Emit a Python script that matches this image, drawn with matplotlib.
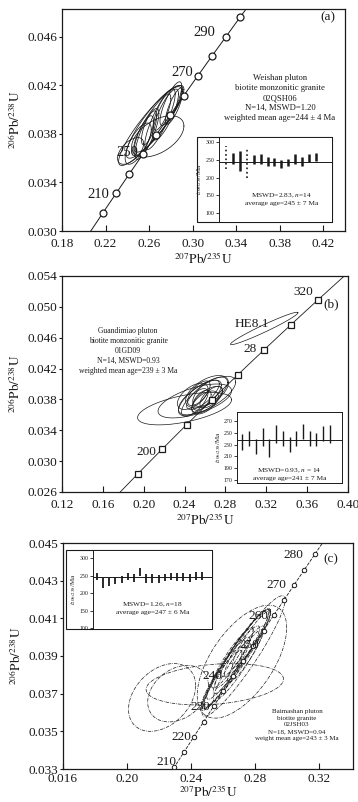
import numpy as np
import matplotlib
matplotlib.use('Agg')
import matplotlib.pyplot as plt
from matplotlib.patches import Rectangle

plt.rcParams['font.family'] = ['Liberation Serif', 'DejaVu Serif']
plt.rcParams['mathtext.fontset'] = 'stix'

# ---------------- data ----------------
L238 = 1.55125e-4   # decay constants per Ma
L235 = 9.8485e-4

# panel (a) Weishan
a_marker_ages = [200, 210, 220, 230, 240, 250, 260, 270, 280, 290, 300]
a_line_ages = (188, 306)
a_xticks = [0.18, 0.22, 0.26, 0.30, 0.34, 0.38, 0.42]
a_yticks = [0.030, 0.034, 0.038, 0.042, 0.046]
a_ell_cx = [0.262, 0.265, 0.268, 0.270, 0.258, 0.275, 0.280, 0.250, 0.243, 0.268, 0.255, 0.272, 0.260, 0.283]
a_ell_cy = [0.0387, 0.0390, 0.0392, 0.0392, 0.0380, 0.0396, 0.0405, 0.0372, 0.0366, 0.0378, 0.0378, 0.0398, 0.0385, 0.0403]
a_ell_sx = [0.030, 0.026, 0.022, 0.014, 0.011, 0.012, 0.010, 0.012, 0.012, 0.024, 0.009, 0.008, 0.007, 0.008]
a_ell_sy = [0.0033, 0.0030, 0.0027, 0.0025, 0.0021, 0.0021, 0.0018, 0.0017, 0.0011, 0.0017, 0.0017, 0.0015, 0.0014, 0.0015]
a_ell_rho = [0.90, 0.88, 0.86, 0.84, 0.80, 0.80, 0.80, 0.70, 0.55, 0.50, 0.75, 0.75, 0.70, 0.80]
a_inset_ages = [258, 255, 248, 240, 252, 254, 246, 244, 239, 242, 253, 245, 256, 258]
a_inset_err = [32, 15, 28, 40, 13, 14, 12, 12, 11, 10, 13, 13, 12, 12]
a_inset_rejected = [0, 3]
a_inset_mean = 245
a_inset_yticks = [100, 150, 200, 250, 300]

# panel (b) Guandimiao
b_marker_ages = [180, 200, 220, 240, 260, 280, 300, 320]
b_line_ages = (164, 345)
b_xticks = [0.12, 0.16, 0.20, 0.24, 0.28, 0.32, 0.36, 0.40]
b_yticks = [0.026, 0.030, 0.034, 0.038, 0.042, 0.046, 0.050, 0.054]
b_ell_cx = [0.240, 0.250, 0.262, 0.255, 0.258, 0.262, 0.250, 0.265, 0.254, 0.260, 0.248, 0.266, 0.257, 0.262, 0.318]
b_ell_cy = [0.0368, 0.0378, 0.0385, 0.0382, 0.0386, 0.0380, 0.0376, 0.0390, 0.0388, 0.0376, 0.0384, 0.0383, 0.0379, 0.0390, 0.0472]
b_ell_sx = [0.046, 0.036, 0.028, 0.021, 0.016, 0.015, 0.013, 0.017, 0.011, 0.013, 0.015, 0.011, 0.009, 0.021, 0.033]
b_ell_sy = [0.0021, 0.0022, 0.0025, 0.0023, 0.0019, 0.0017, 0.0018, 0.0019, 0.0016, 0.0015, 0.0017, 0.0014, 0.0013, 0.0021, 0.0021]
b_ell_rho = [0.55, 0.60, 0.70, 0.72, 0.75, 0.65, 0.70, 0.65, 0.65, 0.55, 0.55, 0.65, 0.55, 0.55, 0.97]
b_inset_ages = [235, 240, 226, 243, 224, 248, 240, 230, 240, 252, 240, 239, 249, 248]
b_inset_err = [14, 13, 13, 15, 16, 15, 13, 13, 13, 13, 13, 11, 13, 15]
b_inset_mean = 238
b_inset_yticks = [170, 190, 210, 230, 250, 270]

# panel (c) Baimashan
c_marker_ages = [210, 215, 220, 225, 230, 235, 240, 245, 250, 255, 260, 265, 270, 275, 280]
c_line_ages = (207, 292)
c_xticks = [0.16, 0.20, 0.24, 0.28, 0.32]
c_xticklabels = ['0.016', '0.20', '0.24', '0.28', '0.32']
c_yticks = [0.033, 0.035, 0.037, 0.039, 0.041, 0.043, 0.045]
c_ell_cx = [0.222, 0.232, 0.255, 0.272, 0.273, 0.268, 0.270, 0.265, 0.272, 0.262, 0.275, 0.266, 0.270, 0.260, 0.278, 0.264, 0.269, 0.274]
c_ell_cy = [0.0368, 0.0370, 0.0375, 0.0387, 0.0390, 0.0388, 0.0391, 0.0384, 0.0394, 0.0381, 0.0397, 0.0389, 0.0386, 0.0378, 0.0399, 0.0383, 0.0392, 0.0390]
c_ell_sx = [0.021, 0.019, 0.043, 0.028, 0.026, 0.022, 0.020, 0.018, 0.017, 0.015, 0.014, 0.013, 0.016, 0.012, 0.012, 0.010, 0.010, 0.011]
c_ell_sy = [0.0018, 0.0015, 0.0011, 0.0030, 0.0032, 0.0027, 0.0024, 0.0022, 0.0021, 0.0019, 0.0018, 0.0016, 0.0020, 0.0015, 0.0015, 0.0013, 0.0013, 0.0014]
c_ell_rho = [0.35, 0.30, 0.25, 0.60, 0.93, 0.95, 0.95, 0.94, 0.94, 0.93, 0.93, 0.92, 0.94, 0.92, 0.92, 0.90, 0.90, 0.92]
c_inset_ages = [248, 229, 232, 235, 240, 248, 243, 260, 241, 242, 240, 244, 248, 246, 246, 243, 250, 250]
c_inset_err = [9, 15, 12, 10, 10, 11, 11, 11, 13, 12, 12, 10, 11, 11, 11, 11, 11, 11]
c_inset_mean = 247
c_inset_yticks = [100, 150, 200, 250, 300]

# ---------------- helpers ----------------
W, H = 358, 802
INK = '#1a1a1a'


def rect(x0, y0, x1, y1):
    return [x0 / W, 1 - y1 / H, (x1 - x0) / W, (y1 - y0) / H]


def concordia(t):
    t = np.asarray(t, dtype=float)
    return np.exp(L235 * t) - 1, np.exp(L238 * t) - 1


def ellipse_xy(cx, cy, sx, sy, rho, n=160):
    th = np.linspace(0, 2 * np.pi, n)
    x = cx + sx * np.cos(th)
    y = cy + sy * (rho * np.cos(th) + np.sqrt(1 - rho ** 2) * np.sin(th))
    return x, y


def style_main(ax, xlim, ylim, xticks, yticks, xticklabels=None, yfmt='{:.3f}',
               xpad=5, xlabelpad=1):
    ax.set_xlim(*xlim)
    ax.set_ylim(*ylim)
    ax.set_xticks(xticks)
    ax.set_yticks(yticks)
    if xticklabels is None:
        xticklabels = ['{:.2f}'.format(v) for v in xticks]
    ax.set_xticklabels(xticklabels)
    ax.set_yticklabels([yfmt.format(v) for v in yticks])
    ax.tick_params(axis='x', direction='in', length=4, width=0.8, labelsize=9.5,
                   colors=INK, pad=xpad)
    ax.tick_params(axis='y', direction='out', length=2.5, width=0.8, labelsize=9.5,
                   colors=INK, pad=1)
    for s in ax.spines.values():
        s.set_linewidth(0.9)
        s.set_color(INK)
    ax.set_xlabel(r'$^{207}\mathrm{Pb}/^{235}\mathrm{U}$', fontsize=9.5, color=INK, labelpad=xlabelpad)
    ax.set_ylabel(r'$^{206}\mathrm{Pb}/^{238}\mathrm{U}$', fontsize=9.5, color=INK, labelpad=3)


def style_inset(ax, xlim, ylim, yticks):
    ax.set_xlim(*xlim)
    ax.set_ylim(*ylim)
    ax.set_xticks([])
    ax.set_yticks(yticks)
    ax.tick_params(axis='y', direction='out', length=2, width=0.6, labelsize=4.2,
                   colors=INK, pad=1)
    for s in ax.spines.values():
        s.set_linewidth(0.7)
        s.set_color(INK)
    ax.set_ylabel(r'$t_{206/238}$/Ma', fontsize=5, color=INK, labelpad=1)


fig = plt.figure(figsize=(W / 100, H / 100), dpi=100)

# ================= panel (a) =================
ax = fig.add_axes(rect(62, 9, 345, 231))
t = np.linspace(*a_line_ages, 300)
cx_, cy_ = concordia(t)
ax.plot(cx_, cy_, color=INK, lw=0.7, zorder=2)
for i in range(len(a_ell_cx)):
    ex, ey = ellipse_xy(a_ell_cx[i], a_ell_cy[i], a_ell_sx[i], a_ell_sy[i], a_ell_rho[i])
    ax.plot(ex, ey, color=INK, lw=0.55, zorder=3)
mx, my = concordia(a_marker_ages)
ax.plot(mx, my, 'o', ms=5, mfc='white', mec=INK, mew=0.9, zorder=4)
style_main(ax, (0.18, 0.44), (0.030, 0.0483), a_xticks, a_yticks)
for txt, (px, py) in [('290', (204, 33)), ('270', (182, 72)), ('250', (127, 152)), ('210', (98, 195))]:
    fig.text(px / W, 1 - py / H, txt, fontsize=10.5, ha='center', va='center', color=INK)
fig.text(328 / W, 1 - 17 / H, '(a)', fontsize=9.5, ha='center', va='center', color=INK)
fig.text(280 / W, 1 - 98 / H,
         'Weishan pluton\nbiotite monzonitic granite\n02QSH06\nN=14, MSWD=1.20\nweighted mean age=244 ± 4 Ma',
         fontsize=6.2, ha='center', va='center', linespacing=1.3, color=INK)

# inset (a)
fig.add_artist(Rectangle((197 / W, 1 - 222 / H), (332 - 197) / W, (222 - 137) / H,
                         transform=fig.transFigure, fill=True, fc='white', ec=INK, lw=0.8, zorder=5))
axi = fig.add_axes(rect(219, 137, 332, 222))
axi.set_zorder(6)
xs = np.arange(1, len(a_inset_ages) + 1)
for i, x in enumerate(xs):
    ls = ':' if i in a_inset_rejected else '-'
    lw = 1.2 if i in a_inset_rejected else 1.8
    axi.vlines(x, a_inset_ages[i] - a_inset_err[i], a_inset_ages[i] + a_inset_err[i],
               color=INK, lw=lw, linestyles=ls)
axi.axhline(a_inset_mean, color=INK, lw=0.7)
style_inset(axi, (0, 16.3), (75, 315), a_inset_yticks)
axi.text(0.55, 0.27, 'MSWD=2.83, $n$=14\naverage age=245 ± 7 Ma', transform=axi.transAxes,
         fontsize=5.3, ha='center', va='center', linespacing=1.3, color=INK)

# ================= panel (b) =================
ax = fig.add_axes(rect(62, 276, 348, 492))
t = np.linspace(*b_line_ages, 300)
cx_, cy_ = concordia(t)
ax.plot(cx_, cy_, color=INK, lw=0.6, zorder=2)
for i in range(len(b_ell_cx)):
    ex, ey = ellipse_xy(b_ell_cx[i], b_ell_cy[i], b_ell_sx[i], b_ell_sy[i], b_ell_rho[i])
    ax.plot(ex, ey, color=INK, lw=0.5, zorder=3)
mx, my = concordia(b_marker_ages)
ax.plot(mx, my, 's', ms=4.6, mfc='white', mec=INK, mew=0.9, zorder=4)
style_main(ax, (0.12, 0.40), (0.026, 0.054), b_xticks, b_yticks)
for txt, (px, py) in [('320', (303, 292)), ('HE8.1', (252, 324)), ('28', (250, 349)), ('200', (146, 452))]:
    fig.text(px / W, 1 - py / H, txt, fontsize=9.5, ha='center', va='center', color=INK)
fig.text(331 / W, 1 - 304 / H, '(b)', fontsize=9.5, ha='center', va='center', color=INK)
fig.text(128 / W, 1 - 351 / H,
         'Guandimiao pluton\nbiotite monzonitic granite\n01GD09\nN=14, MSWD=0.93\nweighted mean age=239 ± 3 Ma',
         fontsize=5.5, ha='center', va='center', linespacing=1.3, color=INK)

# inset (b)
axi = fig.add_axes(rect(237, 412, 342, 483))
axi.set_zorder(6)
xs = np.arange(1, len(b_inset_ages) + 1)
axi.vlines(xs, np.array(b_inset_ages) - np.array(b_inset_err),
           np.array(b_inset_ages) + np.array(b_inset_err), color=INK, lw=1.0)
axi.axhline(b_inset_mean, color=INK, lw=0.7)
style_inset(axi, (0.2, 15.8), (164, 286), b_inset_yticks)
axi.text(0.5, 0.13, 'MSWD=0.93, $n$ = 14\naverage age=241 ± 7 Ma', transform=axi.transAxes,
         fontsize=5.3, ha='center', va='center', linespacing=1.2, color=INK)

# ================= panel (c) =================
ax = fig.add_axes(rect(63, 543, 353, 769))
t = np.linspace(*c_line_ages, 300)
cx_, cy_ = concordia(t)
ax.plot(cx_, cy_, color=INK, lw=0.6, ls=(0, (4, 1.5)), zorder=2)
for i in range(len(c_ell_cx)):
    ex, ey = ellipse_xy(c_ell_cx[i], c_ell_cy[i], c_ell_sx[i], c_ell_sy[i], c_ell_rho[i])
    ax.plot(ex, ey, color=INK, lw=0.5, ls=(0, (5, 1.5, 1, 1.5)), zorder=3)
mx, my = concordia(c_marker_ages)
ax.plot(mx, my, 'o', ms=3.2, mfc='white', mec=INK, mew=0.7, zorder=4)
style_main(ax, (0.16, 0.3415), (0.033, 0.045), c_xticks, c_yticks,
           xticklabels=c_xticklabels, xpad=3, xlabelpad=-1)
for txt, (px, py) in [('280', (293, 555)), ('270', (276, 585)), ('260', (258, 616)),
                      ('250', (249, 645)), ('240', (212, 676)), ('230', (200, 707)),
                      ('220', (181, 737)), ('210', (166, 762))]:
    fig.text(px / W, 1 - py / H, txt, fontsize=9.5, ha='center', va='center', color=INK)
fig.text(331 / W, 1 - 559 / H, '(c)', fontsize=9.5, ha='center', va='center', color=INK)
fig.text(297 / W, 1 - 725 / H,
         'Baimashan pluton\nbiotite granite\n02JSH03\nN=18, MSWD=0.94\nweight mean age=243 ± 3 Ma',
         fontsize=5.0, ha='center', va='center', linespacing=1.45, color=INK)

# inset (c)
fig.add_artist(Rectangle((66 / W, 1 - 629 / H), (212 - 66) / W, (629 - 550) / H,
                         transform=fig.transFigure, fill=True, fc='white', ec=INK, lw=0.8, zorder=5))
axi = fig.add_axes(rect(93, 550, 212, 629))
axi.set_zorder(6)
xs = np.arange(1, len(c_inset_ages) + 1)
axi.vlines(xs, np.array(c_inset_ages) - np.array(c_inset_err),
           np.array(c_inset_ages) + np.array(c_inset_err), color=INK, lw=1.3)
axi.axhline(c_inset_mean, color=INK, lw=0.7)
style_inset(axi, (0.4, 19.6), (97, 324), c_inset_yticks)
axi.text(0.5, 0.27, 'MSWD=1.26, $n$=18\naverage age=247 ± 6 Ma', transform=axi.transAxes,
         fontsize=5.3, ha='center', va='center', linespacing=1.3, color=INK)

fig.savefig('out.png', dpi=100, facecolor='white')
